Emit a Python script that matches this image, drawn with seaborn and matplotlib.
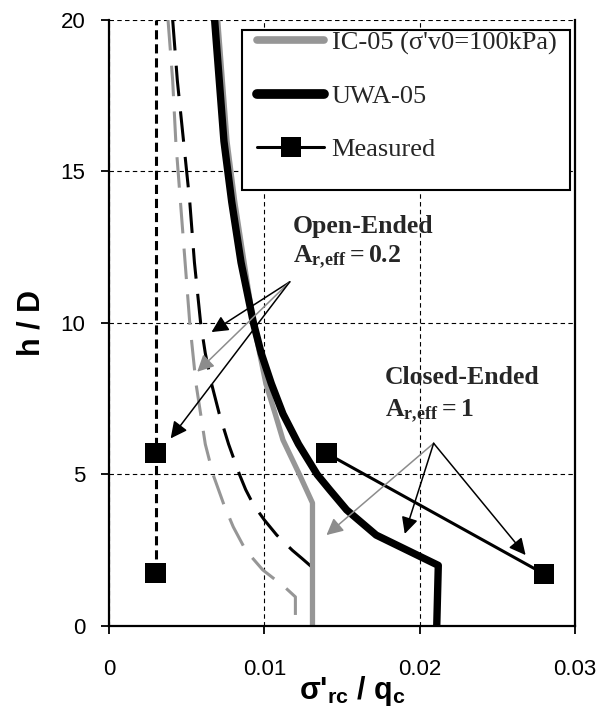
import matplotlib
matplotlib.use("Agg")
import matplotlib.pyplot as plt
import seaborn as sns
import numpy as np
import pandas as pd
from matplotlib.lines import Line2D
from matplotlib.patches import Rectangle

# ---------------- data ----------------
uwa05_x = [0.0068, 0.0071, 0.0074, 0.0079, 0.0085, 0.0089, 0.0093, 0.0098, 0.01045, 0.0112, 0.0122, 0.0134, 0.0142, 0.0153, 0.0172, 0.0212, 0.0211]
uwa05_y = [20.0, 18.0, 16.0, 14.0, 12.0, 11.0, 10.0, 9.0, 8.0, 7.0, 6.0, 5.0, 4.5, 3.83, 3.0, 2.0, 0.0]

ic05_x = [0.0070, 0.0073, 0.0076, 0.0081, 0.0087, 0.0090, 0.0093, 0.0097, 0.0101, 0.0107, 0.0112, 0.01226, 0.0131, 0.0131]
ic05_y = [20.0, 18.0, 16.0, 14.0, 12.0, 11.0, 10.0, 9.0, 8.0, 7.0, 6.14, 5.0, 4.06, 0.0]

uwa05_open_x = [0.0041, 0.0044, 0.0048, 0.0052, 0.0055, 0.0059, 0.0062, 0.0066, 0.0071, 0.0077, 0.0084, 0.0088, 0.0093, 0.0100, 0.0108, 0.0118, 0.0124, 0.01305, 0.01305]
uwa05_open_y = [20.0, 18.0, 16.0, 14.0, 12.0, 10.0, 9.0, 8.0, 7.0, 6.0, 5.0, 4.5, 4.0, 3.5, 3.0, 2.5, 2.24, 1.95, 0.0]

ic05_open_x = [0.0038, 0.0041, 0.0043, 0.0046, 0.0049, 0.0052, 0.0054, 0.0056, 0.0059, 0.0062, 0.0067, 0.0074, 0.0080, 0.0088, 0.0099, 0.0113, 0.0120, 0.0120]
ic05_open_y = [20.0, 18.0, 16.0, 14.0, 12.0, 10.0, 9.0, 8.0, 7.0, 6.0, 5.0, 4.0, 3.27, 2.5, 1.85, 1.29, 0.96, 0.0]

meas_open_x = [0.003, 0.003, 0.003]
meas_open_y = [1.75, 5.7, 20.0]
meas_closed_x = [0.014, 0.028]
meas_closed_y = [5.7, 1.72]

legend_labels = ["IC-05 (σ'v0=100kPa)", "UWA-05", "Measured"]
x_ticks = [0, 0.01, 0.02, 0.03]
x_ticklabels = ["0", "0.01", "0.02", "0.03"]
y_ticks = [0, 5, 10, 15, 20]
y_ticklabels = ["0", "5", "10", "15", "20"]

open_src = (0.01164, 11.36)
open_targets = [(0.0066, 9.70, "black"), (0.00568, 8.39, "#8c8c8c"), (0.00397, 6.19, "black")]
closed_src = (0.0209, 6.03)
closed_targets = [(0.0140, 3.0, "#8c8c8c"), (0.01904, 3.04, "black"), (0.02682, 2.34, "black")]

# ---------------- style ----------------
sns.set_theme(style="ticks")
plt.rcParams["font.family"] = ["Liberation Sans", "DejaVu Sans"]
plt.rcParams["mathtext.fontset"] = "custom"
plt.rcParams["mathtext.rm"] = "Liberation Sans:bold"
plt.rcParams["mathtext.sf"] = "Liberation Sans:bold"
plt.rcParams["mathtext.bf"] = "Liberation Serif:bold"
plt.rcParams["mathtext.it"] = "Liberation Serif:bold:italic"

GREY = "#969696"

fig = plt.figure(figsize=(6.13, 7.22), dpi=100)
ax = fig.add_axes([0.1778, 0.1330, 0.7602, 0.8393])

def draw(x, y, color, lw, dashes=None, z=3):
    n = len(ax.lines)
    sns.lineplot(x=x, y=y, sort=False, estimator=None, color=color, lw=lw, ax=ax)
    ln = ax.lines[n]
    ln.set_zorder(z)
    if dashes is not None:
        ln.set_dashes(dashes)
    ln.set_solid_capstyle("butt")
    ln.set_dash_capstyle("butt")
    ln.set_solid_joinstyle("round")
    return ln

draw(ic05_open_x, ic05_open_y, GREY, 2.2, (10, 5))
draw(uwa05_open_x, uwa05_open_y, "black", 2.2, (10, 5))
draw(ic05_x, ic05_y, GREY, 3.8)
draw(uwa05_x, uwa05_y, "black", 5.3, z=4)
draw(meas_open_x, meas_open_y, "black", 2.2, (3, 1.6))
draw(meas_closed_x, meas_closed_y, "black", 2.2)

sns.scatterplot(x=meas_open_x[:2] + meas_closed_x, y=meas_open_y[:2] + meas_closed_y,
                marker="s", s=215, color="black", edgecolor="none", linewidth=0,
                zorder=6, ax=ax, clip_on=False)

# arrows
for tx, ty, c in open_targets:
    ax.annotate("", xy=(tx, ty), xytext=open_src,
                arrowprops=dict(arrowstyle="-|>", color=c, lw=1.1, mutation_scale=25,
                                shrinkA=0, shrinkB=0), zorder=7)
for tx, ty, c in closed_targets:
    ax.annotate("", xy=(tx, ty), xytext=closed_src,
                arrowprops=dict(arrowstyle="-|>", color=c, lw=1.1, mutation_scale=25,
                                shrinkA=0, shrinkB=0), zorder=7)

# annotation texts
ax.text(0.01183, 12.97, "Open-Ended", family="Liberation Serif", weight="bold",
        fontsize=18.5, ha="left", va="baseline", zorder=8)
ax.text(0.01183, 11.98, r"$\mathbf{A_{r,\!eff}=0.2}$", fontsize=18.5, ha="left",
        va="baseline", zorder=8)
ax.text(0.01775, 7.99, "Closed-Ended", family="Liberation Serif", weight="bold",
        fontsize=18.5, ha="left", va="baseline", zorder=8)
ax.text(0.01775, 6.90, r"$\mathbf{A_{r,\!eff}=1}$", fontsize=18.5, ha="left",
        va="baseline", zorder=8)

# axes
ax.set_xlim(0, 0.03)
ax.set_ylim(0, 20)
ax.set_xticks(x_ticks)
ax.set_xticklabels(x_ticklabels)
ax.set_yticks(y_ticks)
ax.set_yticklabels(y_ticklabels)
ax.tick_params(axis="both", direction="out", length=6, width=1.3, color="black",
               labelsize=16, labelcolor="black")
ax.tick_params(axis="x", pad=18)
ax.tick_params(axis="y", pad=11)
ax.grid(True, color="black", linestyle=(0, (4, 3)), linewidth=0.8)
ax.set_axisbelow(True)
for side in ["left", "bottom", "right"]:
    ax.spines[side].set_visible(True)
    ax.spines[side].set_color("black")
    ax.spines[side].set_linewidth(1.6)
    ax.spines[side].set_zorder(5)
ax.spines["top"].set_visible(False)
ax.set_facecolor("white")

ax.set_xlabel(r"$\text{σ'}_{\text{rc}}\text{ / q}_{\text{c}}$", fontsize=22, color="black")
ax.set_ylabel("h / D", fontsize=22, weight="bold", color="black")
ax.xaxis.set_label_coords(0.5225, -0.08)
ax.yaxis.set_label_coords(-0.135, 0.5)

# legend (frame drawn separately to match the reference box)
frame = Rectangle((0.2854, 0.7195), 0.9893 - 0.2854, 0.9835 - 0.7195, transform=ax.transAxes,
                  facecolor="white", edgecolor="black", lw=1.5, zorder=9)
ax.add_patch(frame)
handles = [
    Line2D([], [], color=GREY, lw=5.5, solid_capstyle="round"),
    Line2D([], [], color="black", lw=7, solid_capstyle="round"),
    Line2D([], [], color="black", lw=2.2, marker="s", markersize=14.5, markeredgewidth=0),
]
leg = ax.legend(handles, legend_labels, loc="upper left", bbox_to_anchor=(0.318, 0.982),
                prop={"family": "Liberation Serif", "size": 19}, frameon=False,
                handlelength=2.55, handletextpad=0.27, labelspacing=1.12,
                borderpad=0, borderaxespad=0)
leg.set_zorder(10)

fig.savefig("out.png", dpi=100, facecolor="white")
